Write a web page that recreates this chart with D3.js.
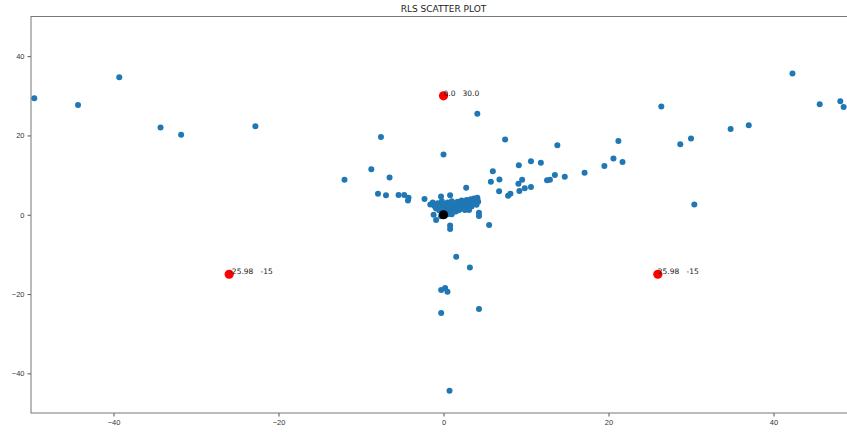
<!DOCTYPE html>
<html>
<head>
<meta charset="utf-8">
<script src="https://cdn.jsdelivr.net/npm/d3@7"></script>
<style>
  body { margin: 0; background: #fff; }
  svg { display: block; font-family: "DejaVu Sans", sans-serif; }
  .tick text { fill: #333; font-size: 7.5px; }
  .tick line { stroke: #555; }
  .domain { display: none; }
</style>
</head>
<body>
<svg id="chart" width="847" height="432"></svg>
<script>
// scatter values
const scatterX = [
  -49.6, -44.3, -39.3, -34.3, -31.8, -22.8,
  13.8, 21.2, 26.4, 28.7, 30.0, 34.8, 37.0, 42.3, 45.6, 48.1, 48.5, 30.4,
  7.47, 5.98, 5.74, 6.78, 6.74, 7.83, 8.11, 9.13, 10.6, 11.8, 9.08, 9.53, 9.2, 9.85, 10.6,
  12.55, 12.9, 13.5, 14.7, 17.1, 19.5, 20.6, 21.7, 5.53,
  -7.58, -8.75, -12.0, -6.54, -7.94, -6.97, -5.45, -4.76, -4.24, -4.31, -2.3,
  4.1, 0.0, 1.54, 3.2, -0.28, 0.2, 0.48, -0.28, 4.3, 0.73,
  -1.6, -1.3, -1.1, -0.9, -0.7, -0.5, -0.4, -0.2, -0.1, 0.1, 0.2, 0.3, 0.4, 0.5, 0.6, 0.7,
  0.8, 0.9, 1.0, 1.1, 1.2, 1.3, 1.4, 1.5, 1.6, 1.7, 1.8, 1.9, 2.0, 2.1, 2.2, 2.3, 2.4, 2.5,
  2.6, 2.7, 2.8, 2.9, 3.0, 3.1, 3.2, 3.3, 3.4, 3.5, 3.6, 3.7, 3.8, 3.9, 4.0, 4.1, 4.2, 4.1,
  -0.3, 0.2, 0.6, 1.0, 2.6, 3.1,
  -0.3, 0.8, -1.2, -0.9, 0.8, 0.8, 4.3, 4.3, 2.75
]
const scatterY = [
  29.4, 27.7, 34.7, 22.0, 20.2, 22.3,
  17.5, 18.6, 27.3, 17.8, 19.2, 21.6, 22.6, 35.6, 27.9, 28.6, 27.2, 2.6,
  19.0, 11.0, 8.3, 8.9, 5.9, 4.8, 5.3, 12.5, 13.5, 13.1, 7.8, 8.8, 6.0, 6.7, 7.0,
  8.7, 8.8, 10.0, 9.6, 10.6, 12.3, 14.2, 13.3, -2.6,
  19.6, 11.5, 8.8, 9.4, 5.3, 4.9, 5.0, 5.0, 4.3, 3.6, 4.0,
  25.5, 15.2, -10.6, -13.3, -19.0, -18.5, -19.4, -24.8, -23.8, -44.4,
  2.6, 3.1, 2.2, 1.6, 2.9, 1.1, 2.3, 3.4, 0.6, 1.8, 2.7, 0.4, 1.3, 3.1, 2.1, 0.9,
  1.6, 2.6, 3.4, 1.2, 2.0, 2.9, 1.5, 0.8, 2.4, 3.3, 1.9, 1.2, 2.8, 2.2, 3.6, 1.6, 2.5, 3.1,
  1.9, 2.8, 3.7, 2.3, 1.7, 3.2, 2.6, 3.9, 2.1, 3.4, 2.8, 4.1, 3.0, 3.7, 2.5, 4.3, 3.3, 3.9,
  -0.4, -0.2, 0.2, 0.1, 1.2, 1.2,
  4.6, 4.9, 0.0, -1.3, -2.7, -3.6, 0.5, -0.3, 6.8
]

// highlighted points and their labels
const markedX = [0.0, -25.98, 25.98]
const markedY = [30.0, -15, -15]
const markedLabels = ['0.0   30.0', '-25.98   -15', '25.98   -15']
const originX = [0]
const originY = [0]

const xTicks = [-40, -20, 0, 20, 40]
const yTicks = [-40, -20, 0, 20, 40]

const svg = d3.select('#chart')
const mLeft = 31
const mRight = 856
const mTop = 16.5
const mBottom = 413

const x = d3.scaleLinear().domain([-50, 50]).range([mLeft, mRight])
const y = d3.scaleLinear().domain([-50, 50]).range([mBottom, mTop])

const minus = d => String(d).replace('-', '\u2212')

// axes
svg.append('g')
  .attr('transform', `translate(0,${mBottom})`)
  .call(d3.axisBottom(x).tickValues(xTicks).tickSize(3.5).tickPadding(3).tickFormat(minus))
svg.append('g')
  .attr('transform', `translate(${mLeft},0)`)
  .call(d3.axisLeft(y).tickValues(yTicks).tickSize(3.5).tickPadding(3).tickFormat(minus))

// frame
svg.append('rect')
  .attr('x', mLeft).attr('y', mTop)
  .attr('width', mRight - mLeft).attr('height', mBottom - mTop)
  .style('fill', 'none')
  .style('stroke', '#777')
  .style('stroke-width', 1)

svg.append('text')
  .attr('x', (mLeft + mRight) / 2)
  .attr('y', 12)
  .style('text-anchor', 'middle')
  .style('font-size', '9px')
  .style('fill', '#222')
  .text('RLS SCATTER PLOT')

const pts = scatterX.map((d, i) => [d, scatterY[i]])
svg.append('g').selectAll('circle').data(pts).join('circle')
  .attr('cx', d => x(d[0]))
  .attr('cy', d => y(d[1]))
  .attr('r', 3)
  .style('fill', '#1f77b4')

svg.append('g').selectAll('circle').data(markedX).join('circle')
  .attr('cx', d => x(d))
  .attr('cy', (d, i) => y(markedY[i]))
  .attr('r', 4.6)
  .style('fill', '#ff0000')

svg.append('g').selectAll('circle').data(originX).join('circle')
  .attr('cx', d => x(d))
  .attr('cy', (d, i) => y(originY[i]))
  .attr('r', 4.6)
  .style('fill', '#000')

svg.append('g').selectAll('text').data(markedLabels).join('text')
  .attr('x', (d, i) => x(markedX[i]))
  .attr('y', (d, i) => y(markedY[i]))
  .style('font-size', '7.5px')
  .style('fill', '#222')
  .style('white-space', 'pre')
  .text(d => d)
</script>
</body>
</html>
